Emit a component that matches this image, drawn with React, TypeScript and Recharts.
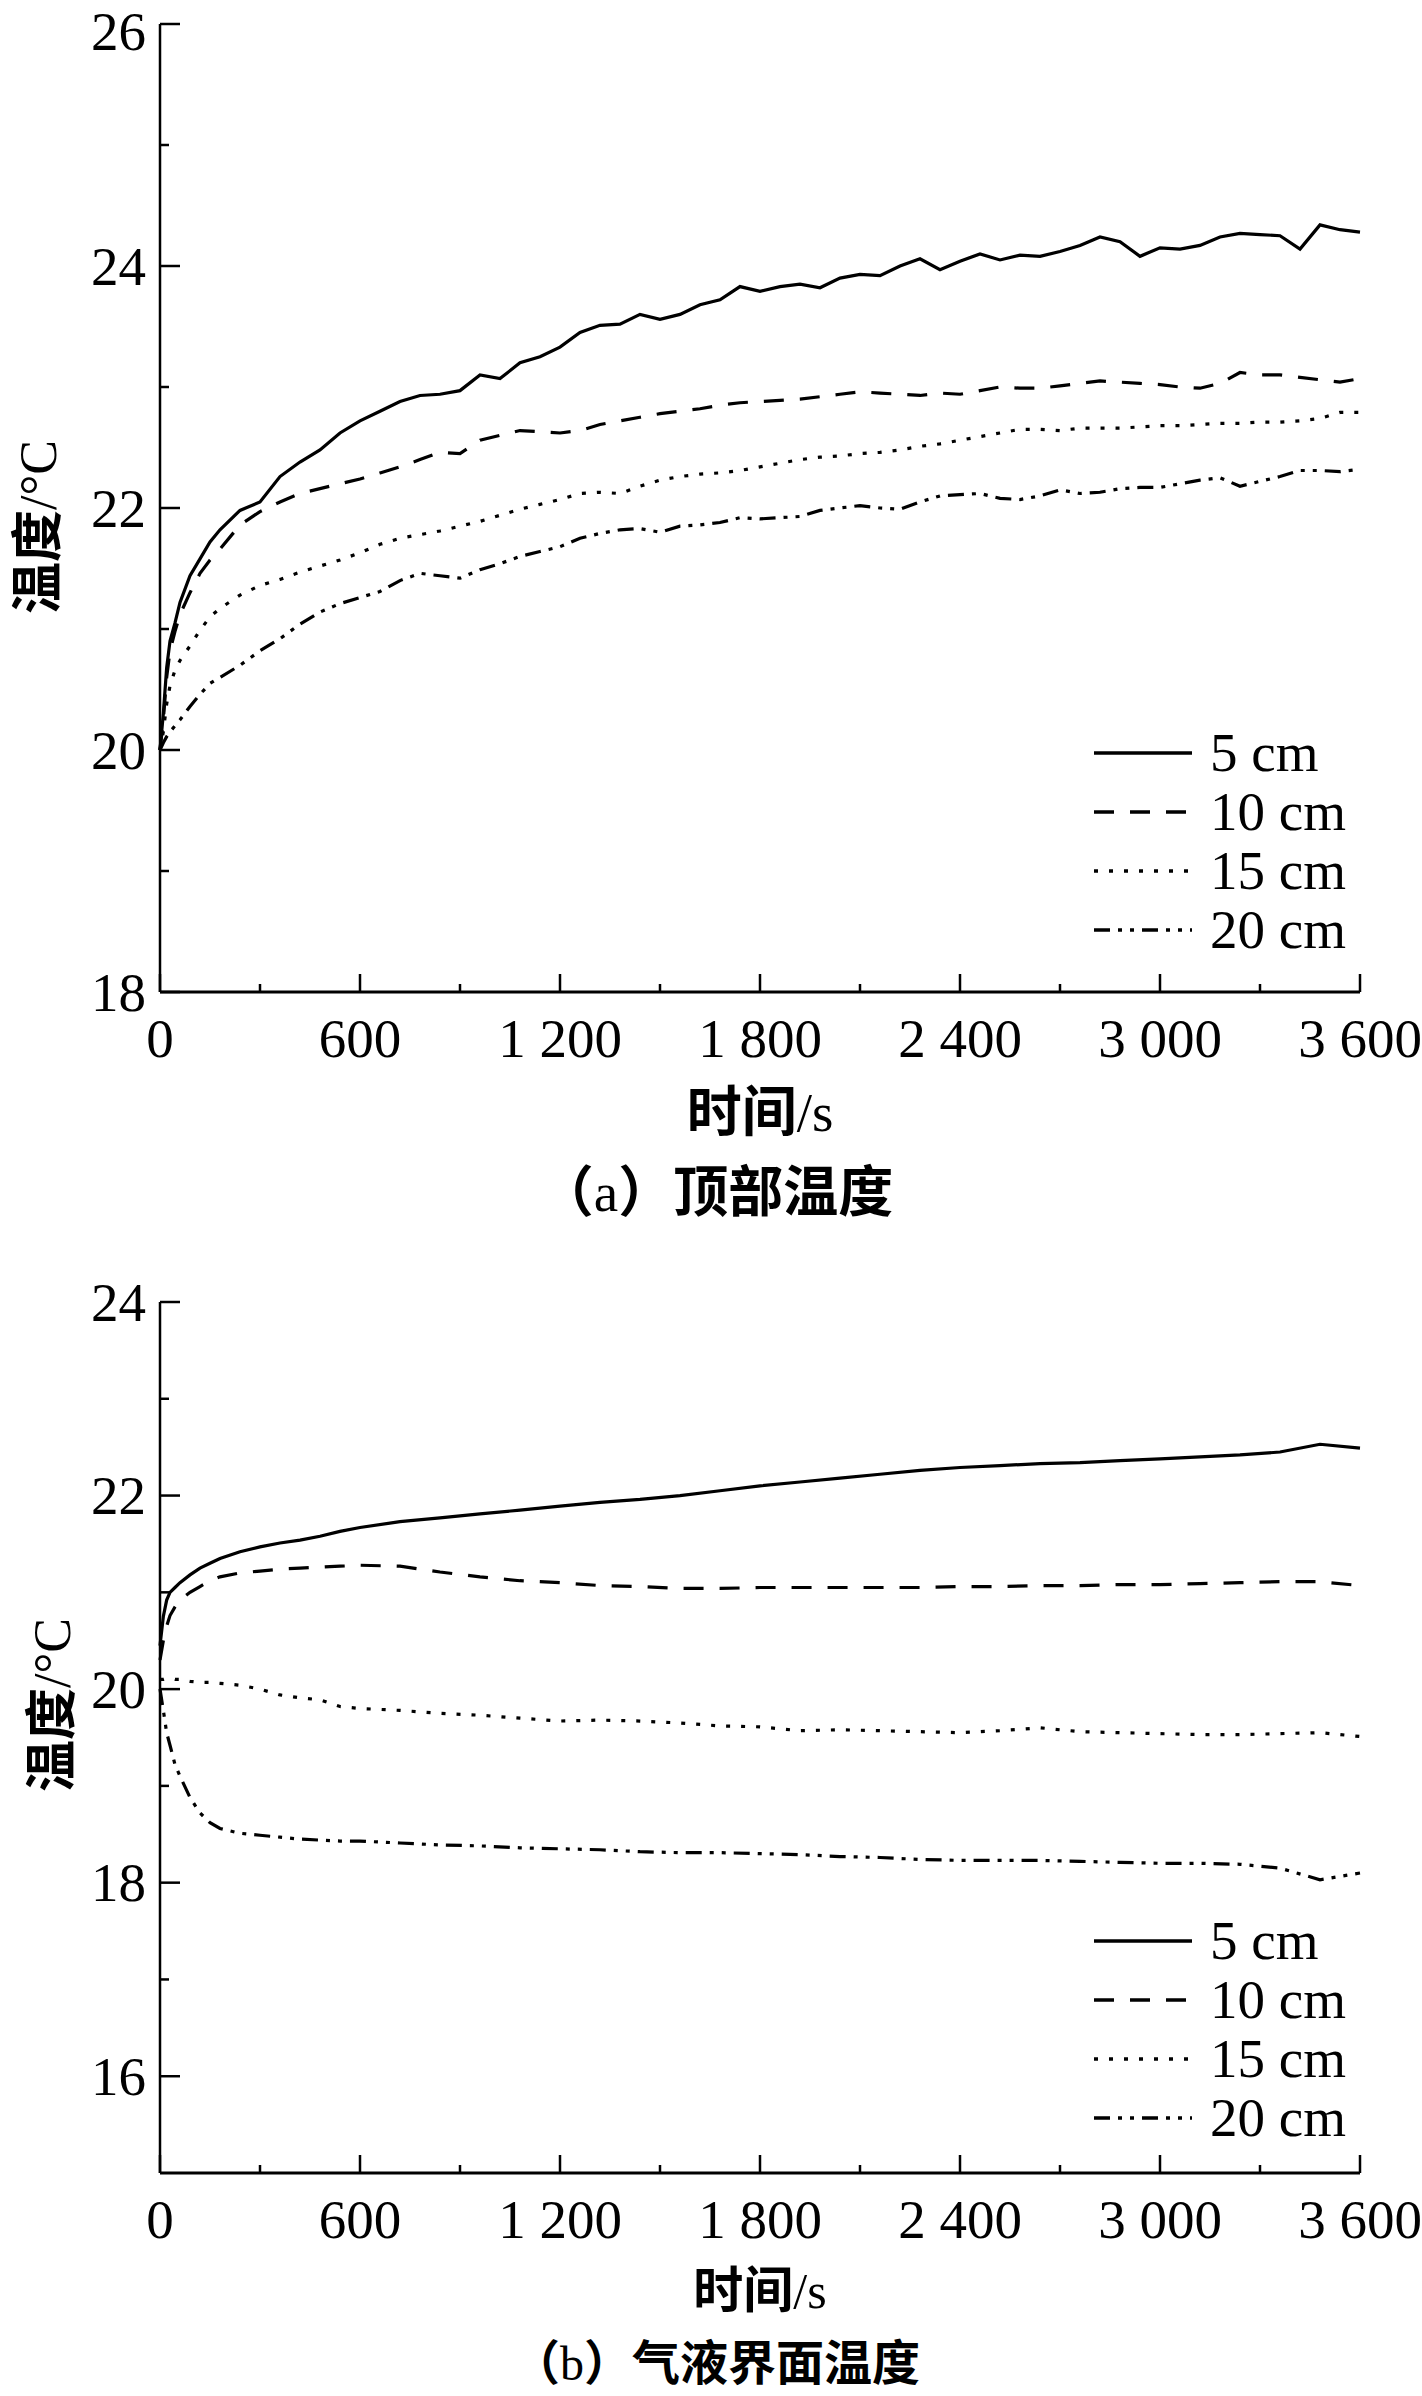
import React from 'react';
import { LineChart, Line, XAxis, YAxis, Legend } from 'recharts';

// time axis (s)
const TOP_TIME = [0, 10, 20, 30, 45, 60, 90, 120, 150, 180,
  240, 300, 360, 420, 480, 540, 600, 660, 720, 780,
  840, 900, 960, 1020, 1080, 1140, 1200, 1260, 1320, 1380,
  1440, 1500, 1560, 1620, 1680, 1740, 1800, 1860, 1920, 1980,
  2040, 2100, 2160, 2220, 2280, 2340, 2400, 2460, 2520, 2580,
  2640, 2700, 2760, 2820, 2880, 2940, 3000, 3060, 3120, 3180,
  3240, 3300, 3360, 3420, 3480, 3540, 3600];

// (a) top temperature
const TOP_5CM = [20.0, 20.3, 20.68, 20.9, 21.05, 21.22, 21.44, 21.58, 21.72, 21.82,
  21.98, 22.05, 22.26, 22.38, 22.48, 22.62, 22.72, 22.8, 22.88, 22.93,
  22.94, 22.97, 23.1, 23.07, 23.2, 23.25, 23.33, 23.45, 23.51, 23.52,
  23.6, 23.56, 23.6, 23.68, 23.72, 23.83, 23.79, 23.83, 23.85, 23.82,
  23.9, 23.93, 23.92, 24.0, 24.06, 23.97, 24.04, 24.1, 24.05, 24.09,
  24.08, 24.12, 24.17, 24.24, 24.2, 24.08, 24.15, 24.14, 24.17, 24.24,
  24.27, 24.26, 24.25, 24.14, 24.34, 24.3, 24.28];
const TOP_10CM = [20.0, 20.25, 20.6, 20.82, 20.98, 21.12, 21.3, 21.46, 21.57, 21.66,
  21.86, 21.97, 22.05, 22.12, 22.16, 22.2, 22.24, 22.29, 22.34, 22.4,
  22.46, 22.45, 22.56, 22.6, 22.64, 22.63, 22.62, 22.64, 22.69, 22.72,
  22.75, 22.78, 22.8, 22.82, 22.85, 22.87, 22.88, 22.89, 22.9, 22.92,
  22.94, 22.96, 22.95, 22.94, 22.93, 22.95, 22.94, 22.97, 23.0, 22.99,
  22.99, 23.01, 23.03, 23.05, 23.04, 23.03, 23.02, 23.0, 22.99, 23.03,
  23.12, 23.1, 23.1, 23.08, 23.06, 23.04, 23.07];
const TOP_15CM = [20.0, 20.15, 20.38, 20.53, 20.66, 20.74, 20.86, 20.99, 21.1, 21.17,
  21.28, 21.36, 21.41, 21.47, 21.52, 21.57, 21.63, 21.7, 21.75, 21.78,
  21.81, 21.85, 21.89, 21.94, 21.99, 22.03, 22.07, 22.12, 22.13, 22.12,
  22.18, 22.23, 22.26, 22.28, 22.29, 22.31, 22.34, 22.37, 22.4, 22.42,
  22.43, 22.45, 22.46, 22.48, 22.51, 22.53, 22.56, 22.59, 22.62, 22.65,
  22.65, 22.64, 22.66, 22.66, 22.66, 22.67, 22.68, 22.68, 22.69, 22.7,
  22.7, 22.71, 22.71, 22.72, 22.74, 22.79, 22.79];
const TOP_20CM = [20.0, 20.06, 20.11, 20.15, 20.2, 20.25, 20.36, 20.46, 20.55, 20.6,
  20.7, 20.82, 20.92, 21.04, 21.14, 21.21, 21.26, 21.31, 21.4, 21.46,
  21.44, 21.42, 21.49, 21.54, 21.6, 21.64, 21.68, 21.75, 21.79, 21.82,
  21.83, 21.8, 21.85, 21.86, 21.88, 21.92, 21.91, 21.92, 21.93, 21.98,
  22.0, 22.02, 22.0, 21.99, 22.05, 22.1, 22.11, 22.12, 22.08, 22.07,
  22.1, 22.15, 22.12, 22.13, 22.16, 22.17, 22.17, 22.2, 22.23, 22.25,
  22.18, 22.22, 22.26, 22.31, 22.31, 22.3, 22.32];

const BOT_TIME = [0, 10, 20, 30, 45, 60, 90, 120, 150, 180,
  240, 300, 360, 420, 480, 540, 600, 720, 840, 960,
  1080, 1200, 1320, 1440, 1560, 1680, 1800, 1920, 2040, 2160,
  2280, 2400, 2520, 2640, 2760, 2880, 3000, 3120, 3240, 3360,
  3480, 3600];

// (b) gas-liquid interface temperature
const BOT_5CM = [20.45, 20.75, 20.92, 21.0, 21.05, 21.1, 21.18, 21.25, 21.3, 21.35,
  21.42, 21.47, 21.51, 21.54, 21.58, 21.63, 21.67, 21.73, 21.77, 21.81,
  21.85, 21.89, 21.93, 21.96, 22.0, 22.05, 22.1, 22.14, 22.18, 22.22,
  22.26, 22.29, 22.31, 22.33, 22.34, 22.36, 22.38, 22.4, 22.42, 22.45,
  22.53, 22.49];
const BOT_10CM = [20.3, 20.5, 20.65, 20.76, 20.85, 20.92, 21.0, 21.06, 21.12, 21.16,
  21.2, 21.22, 21.24, 21.25, 21.26, 21.27, 21.28, 21.27, 21.21, 21.16,
  21.12, 21.1, 21.07, 21.06, 21.04, 21.04, 21.05, 21.05, 21.05, 21.05,
  21.05, 21.06, 21.06, 21.07, 21.07, 21.08, 21.08, 21.09, 21.1, 21.11,
  21.11, 21.07];
const BOT_15CM = [20.1, 20.1, 20.11, 20.11, 20.1, 20.1, 20.08, 20.07, 20.07, 20.06,
  20.04, 20.0, 19.94, 19.91, 19.89, 19.82, 19.8, 19.78, 19.75, 19.73,
  19.7, 19.67, 19.68, 19.67, 19.65, 19.62, 19.61, 19.57, 19.58, 19.57,
  19.56, 19.55, 19.57, 19.6, 19.56, 19.55, 19.54, 19.53, 19.53, 19.54,
  19.55, 19.51];
const BOT_20CM = [20.0, 19.78, 19.55, 19.42, 19.22, 19.1, 18.88, 18.72, 18.62, 18.56,
  18.51, 18.49, 18.47, 18.45, 18.44, 18.43, 18.43, 18.41, 18.39, 18.38,
  18.36, 18.35, 18.34, 18.32, 18.31, 18.31, 18.3, 18.29, 18.27, 18.26,
  18.24, 18.23, 18.23, 18.23, 18.22, 18.21, 18.2, 18.2, 18.19, 18.15,
  18.03, 18.1];

const X_TICKS = [0, 300, 600, 900, 1200, 1500, 1800, 2100, 2400, 2700, 3000, 3300, 3600];
const TOP_Y_TICKS = [18, 19, 20, 21, 22, 23, 24, 25, 26];
const BOT_Y_TICKS = [16, 17, 18, 19, 20, 21, 22, 23, 24];

const SERIES = ['5 cm', '10 cm', '15 cm', '20 cm'];
const DASHES = [undefined, '20 16', '4 11', '16 8 4 8 4 8'];

const SERIF = "'Liberation Serif', 'Times New Roman', serif";
const CJK = "'Noto Sans CJK SC', sans-serif";

const buildRows = (time: number[], cols: number[][]) =>
  time.map((t, i) => {
    const row: Record<string, number> = { t };
    cols.forEach((c, k) => { row[SERIES[k]] = c[i]; });
    return row;
  });

const topData = buildRows(TOP_TIME, [TOP_5CM, TOP_10CM, TOP_15CM, TOP_20CM]);
const botData = buildRows(BOT_TIME, [BOT_5CM, BOT_10CM, BOT_15CM, BOT_20CM]);

const fmtX = (v: number) =>
  v >= 1000 ? `${Math.floor(v / 1000)} ${String(v % 1000).padStart(3, '0')}` : String(v);

const XTick = (props: any) => {
  const { x, y, payload } = props;
  const major = payload.value % 600 === 0;
  return (
    <g>
      <line x1={x} y1={y} x2={x} y2={y - (major ? 18 : 8)} stroke="#000" strokeWidth={2.5} />
      {major && (
        <text x={x} y={y + 46} textAnchor="middle" dominantBaseline="central"
          fontFamily={SERIF} fontSize={55} fill="#000">
          {fmtX(payload.value)}
        </text>
      )}
    </g>
  );
};

const YTick = (props: any) => {
  const { x, y, payload } = props;
  const major = payload.value % 2 === 0;
  // the topmost label sits at the picture edge, keep it inside
  const ty = Math.max(y, 31);
  return (
    <g>
      <line x1={x} y1={y} x2={x + (major ? 20 : 9)} y2={y} stroke="#000" strokeWidth={2.5} />
      {major && (
        <text x={x - 14} y={ty} textAnchor="end" dominantBaseline="central"
          fontFamily={SERIF} fontSize={55} fill="#000">
          {payload.value}
        </text>
      )}
    </g>
  );
};

const renderLegend = (props: any) => {
  const items = [...props.payload].sort(
    (a: any, b: any) => SERIES.indexOf(a.value) - SERIES.indexOf(b.value));
  return (
    <div style={{ fontFamily: SERIF, fontSize: 55, color: '#000' }}>
      {items.map((entry: any) => (
        <div key={entry.value} style={{ display: 'flex', alignItems: 'center', height: 59 }}>
          <svg width={102} height={12}>
            <line x1={2} y1={6} x2={100} y2={6} stroke="#000" strokeWidth={3.5}
              strokeDasharray={DASHES[SERIES.indexOf(entry.value)]} />
          </svg>
          <span style={{ marginLeft: 16, lineHeight: 1 }}>{entry.value}</span>
        </div>
      ))}
    </div>
  );
};

interface PanelProps {
  top: number;
  plotTop: number;
  plotBottom: number;
  data: Record<string, number>[];
  yDomain: [number, number];
  yTicks: number[];
  legendTop: number;
}

const Panel = ({ top, plotTop, plotBottom, data, yDomain, yTicks, legendTop }: PanelProps) => (
  <div style={{ position: 'absolute', left: 0, top }}>
    <LineChart width={1422} height={plotBottom - top + 100}
      data={data} margin={{ top: plotTop - top, right: 62, bottom: 0, left: 0 }}>
      <XAxis dataKey="t" type="number" domain={[0, 3600]} ticks={X_TICKS}
        height={100} tickSize={0} tickMargin={0} tick={<XTick />}
        axisLine={{ stroke: '#000', strokeWidth: 3 }} tickLine={false} interval={0} />
      <YAxis type="number" domain={yDomain} ticks={yTicks} width={160}
        tickSize={0} tickMargin={0} tick={<YTick />} allowDataOverflow
        axisLine={{ stroke: '#000', strokeWidth: 2.5 }} tickLine={false} interval={0} />
      <Legend layout="vertical" align="center" verticalAlign="middle" content={renderLegend}
        wrapperStyle={{ left: 1092, top: legendTop - top, width: 300 }} />
      {SERIES.map((name, i) => (
        <Line key={name} type="linear" dataKey={name} name={name} stroke="#000"
          strokeWidth={3.2} strokeDasharray={DASHES[i]} dot={false}
          isAnimationActive={false} />
      ))}
    </LineChart>
  </div>
);

const textBox = (cx: number, cy: number, extra?: React.CSSProperties): React.CSSProperties => ({
  position: 'absolute', left: cx, top: cy, transform: 'translate(-50%, -50%)',
  whiteSpace: 'nowrap', fontFamily: SERIF, fontSize: 55, color: '#000', lineHeight: 1, ...extra,
});

const Cjk = ({ children }: { children: React.ReactNode }) => (
  <span style={{ fontFamily: CJK, fontWeight: 700 }}>{children}</span>
);

export default function App() {
  return (
    <div style={{ position: 'absolute', left: 0, top: 0, width: 1422, height: 2396, background: '#fff' }}>
      <Panel top={0} plotTop={24} plotBottom={992} data={topData}
        yDomain={[18, 26]} yTicks={TOP_Y_TICKS} legendTop={723} />
      <Panel top={1250} plotTop={1302} plotBottom={2173} data={botData}
        yDomain={[15, 24]} yTicks={BOT_Y_TICKS} legendTop={1911} />

      <div style={textBox(36, 527, { transform: 'translate(-50%, -50%) rotate(-90deg)', fontSize: 52 })}>
        <Cjk>温度</Cjk>/°C
      </div>
      <div style={textBox(760, 1110)}><Cjk>时间</Cjk>/s</div>
      <div style={textBox(716, 1190)}><Cjk>（</Cjk>a<Cjk>）顶部温度</Cjk></div>

      <div style={textBox(50, 1705, { transform: 'translate(-50%, -50%) rotate(-90deg)', fontSize: 52 })}>
        <Cjk>温度</Cjk>/°C
      </div>
      <div style={textBox(760, 2288, { fontSize: 50 })}><Cjk>时间</Cjk>/s</div>
      <div style={textBox(716, 2361, { fontSize: 48 })}><Cjk>（</Cjk>b<Cjk>）气液界面温度</Cjk></div>
    </div>
  );
}
